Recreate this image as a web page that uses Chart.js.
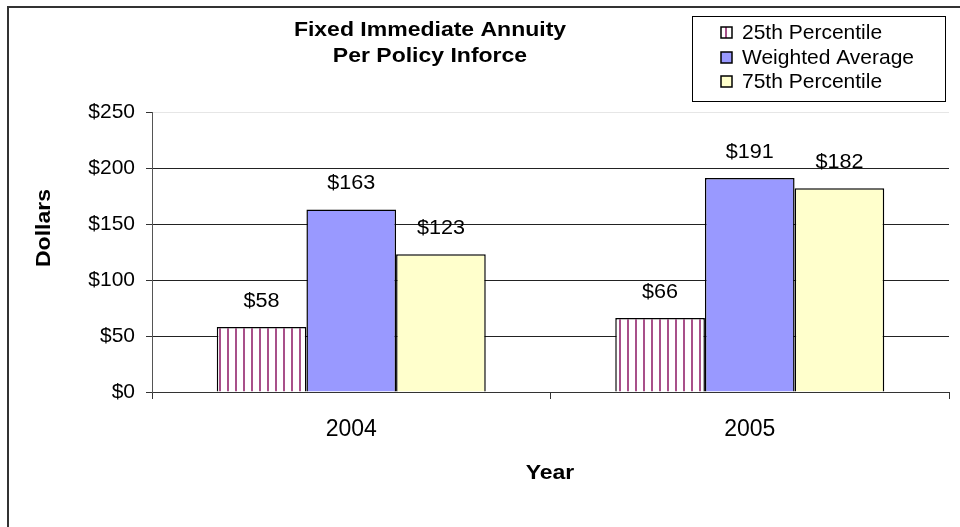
<!DOCTYPE html>
<html>
<head>
<meta charset="utf-8">
<script src="https://cdn.jsdelivr.net/npm/chart.js@4.4.1/dist/chart.umd.min.js"></script>
<style>
  html, body { margin: 0; padding: 0; background: #fff; }
  #wrap { width: 960px; height: 527px; }
</style>
</head>
<body>
<div id="wrap"><canvas id="annuityChart" width="960" height="527"></canvas></div>
<script>
// data
var years = ["2004", "2005"];
var seriesNames = ["25th Percentile", "Weighted Average", "75th Percentile"];
var p25 = [58, 66];
var weightedAvg = [163, 191];
var p75 = [123, 182];
var yTicks = [0, 50, 100, 150, 200, 250];

var FONT = "'Liberation Sans', Arial, sans-serif";
var STRIPE = "#a8508a";

// vertical stripe fill for the 25th percentile bars
function stripePattern() {
  var c = document.createElement("canvas");
  c.width = 8;
  c.height = 8;
  var g = c.getContext("2d");
  g.fillStyle = "#ffffff";
  g.fillRect(0, 0, 8, 8);
  g.fillStyle = STRIPE;
  g.fillRect(3, 0, 2, 8);
  return g.createPattern(c, "repeat");
}
var stripes = stripePattern();

// text drawn slightly wider than the font, like the old office export
function wideText(ctx, text, x, y, sx) {
  ctx.save();
  ctx.translate(x, y);
  ctx.scale(sx, 1);
  ctx.fillText(text, 0, 0);
  ctx.restore();
}

// frame, titles, legend and value labels
var decorations = {
  id: "decorations",
  afterDraw: function (chart) {
    var ctx = chart.ctx;
    ctx.save();

    // outer frame
    ctx.strokeStyle = "#333";
    ctx.lineWidth = 2;
    ctx.beginPath();
    ctx.moveTo(960, 7);
    ctx.lineTo(8, 7);
    ctx.lineTo(8, 527);
    ctx.stroke();

    // chart title
    ctx.fillStyle = "#000";
    ctx.font = "bold 20px " + FONT;
    ctx.textAlign = "center";
    ctx.textBaseline = "middle";
    wideText(ctx, "Fixed Immediate Annuity", 430, 30, 1.15);
    wideText(ctx, "Per Policy Inforce", 430, 56, 1.15);

    // axis titles
    wideText(ctx, "Year", 550, 473, 1.15);
    ctx.save();
    ctx.translate(44, 228);
    ctx.rotate(-Math.PI / 2);
    ctx.scale(1.15, 1);
    ctx.fillText("Dollars", 0, 0);
    ctx.restore();

    // value labels
    ctx.font = "20px " + FONT;
    chart.data.datasets.forEach(function (ds, i) {
      chart.getDatasetMeta(i).data.forEach(function (bar, j) {
        wideText(ctx, "$" + ds.data[j], bar.x, bar.y - 26, 1.08);
      });
    });

    // legend
    ctx.fillStyle = "#fff";
    ctx.fillRect(692, 16, 254, 85);
    ctx.strokeStyle = "#000";
    ctx.lineWidth = 1;
    ctx.strokeRect(692.5, 16.5, 253, 85);
    ctx.textAlign = "left";
    ctx.font = "21px " + FONT;
    var rowY = [32, 57, 81];
    chart.data.datasets.forEach(function (ds, i) {
      var y = rowY[i];
      if (i === 0) {
        ctx.fillStyle = "#fff";
        ctx.fillRect(721, y - 5, 11, 11);
        ctx.fillStyle = STRIPE;
        ctx.fillRect(725, y - 5, 2, 11);
      } else {
        ctx.fillStyle = ds.backgroundColor;
        ctx.fillRect(721, y - 5, 11, 11);
      }
      ctx.strokeStyle = "#000";
      ctx.lineWidth = 1.5;
      ctx.strokeRect(721, y - 5, 11, 11);
      ctx.fillStyle = "#000";
      ctx.fillText(ds.label, 742, y + 1);
    });

    ctx.restore();
  },
};

var ctxAnnuity = document.getElementById("annuityChart");
var chartAnnuity = new Chart(ctxAnnuity, {
  type: "bar",
  data: {
    labels: years,
    datasets: [
      {
        label: seriesNames[0],
        data: p25,
        backgroundColor: stripes,
        borderColor: "#000",
        borderWidth: 1.5,
      },
      {
        label: seriesNames[1],
        data: weightedAvg,
        backgroundColor: "#9999ff",
        borderColor: "#000",
        borderWidth: 1.5,
      },
      {
        label: seriesNames[2],
        data: p75,
        backgroundColor: "#ffffcc",
        borderColor: "#000",
        borderWidth: 1.5,
      },
    ],
  },
  options: {
    responsive: false,
    animation: false,
    categoryPercentage: 0.675,
    barPercentage: 1,
    layout: {
      padding: { left: 8, top: 112, right: 11, bottom: 0 },
    },
    plugins: {
      legend: { display: false },
      title: { display: false },
      tooltip: { enabled: false },
    },
    scales: {
      x: {
        afterFit: function (scale) {
          scale.height = 135;
        },
        grid: {
          offset: true,
          drawOnChartArea: false,
          color: "#333",
          tickLength: 7,
        },
        border: { color: "#333", width: 1 },
        ticks: {
          color: "#000",
          font: { family: FONT, size: 23 },
          padding: 17,
        },
      },
      y: {
        min: 0,
        max: 250,
        afterFit: function (scale) {
          scale.width = 144;
        },
        afterBuildTicks: function (scale) {
          scale.ticks = yTicks.map(function (v) {
            return { value: v };
          });
        },
        grid: {
          color: function (c) {
            return c.tick && c.tick.value === 250 ? "#e6e6e6" : "#222";
          },
          tickColor: "#333",
          tickLength: 6,
        },
        border: { color: "#555", width: 1 },
        ticks: {
          color: "#000",
          font: { family: FONT, size: 21 },
          padding: 11,
          callback: function (v) {
            return "$" + v;
          },
        },
      },
    },
  },
  plugins: [decorations],
});
</script>
</body>
</html>
